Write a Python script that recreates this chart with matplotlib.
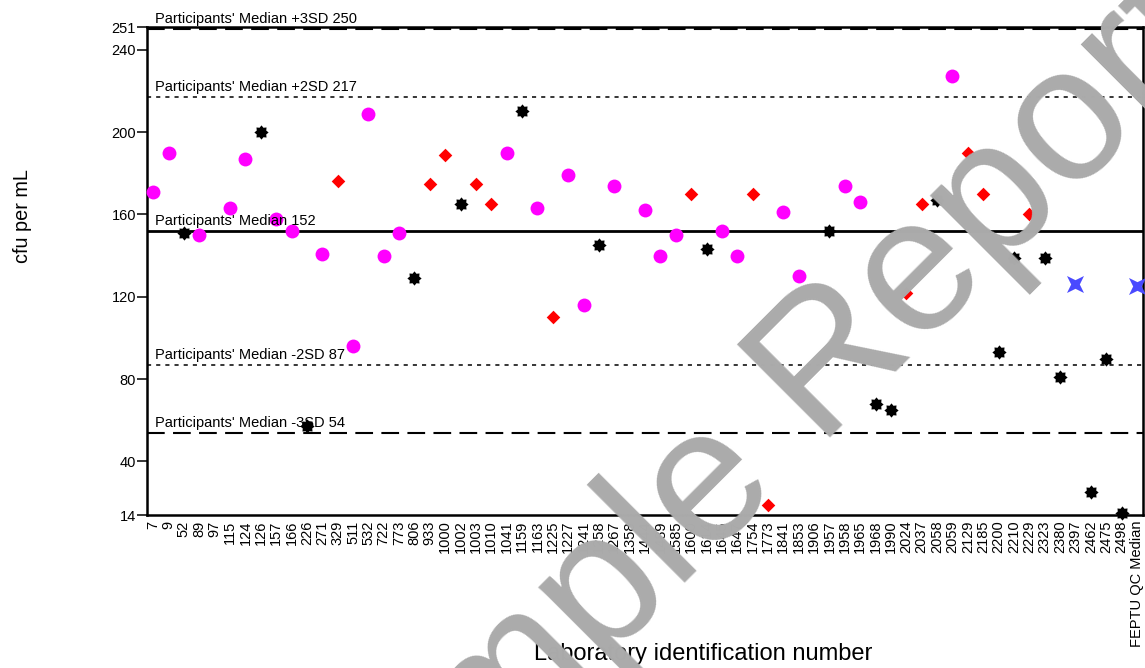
import matplotlib
matplotlib.use("Agg")
import matplotlib.pyplot as plt
import numpy as np
from matplotlib.path import Path
import matplotlib.transforms as mtransforms

plt.rcParams["font.family"] = ["Liberation Sans", "DejaVu Sans"]

# laboratory ids as printed on the x axis
lab_ids = [
    "7", "9", "52", "89", "97", "115", "124", "126", "157", "166", "226", "271",
    "329", "511", "532", "722", "773", "806", "933", "1000", "1002", "1003",
    "1010", "1041", "1159", "1163", "1225", "1227", "1241", "1258", "1267",
    "1358", "1444", "1489", "1585", "1600", "1614", "1645", "1647", "1754",
    "1773", "1841", "1853", "1906", "1957", "1958", "1965", "1968", "1990",
    "2024", "2037", "2058", "2059", "2129", "2185", "2200", "2210", "2229",
    "2323", "2380", "2397", "2462", "2475", "2498", "FEPTU QC Median",
]

# reported counts (cfu per mL), nan = no result
counts = [
    171, 190, 151, 150, np.nan, 163, 187, 200, 158, 152, 57, 141,
    176, 96, 209, 140, 151, 129, 175, 189, 165, 175,
    165, 190, 210, 163, 110, 179, 116, 145, 174,
    np.nan, 162, 140, 150, 170, 143, 152, 140, 170,
    19, 161, 130, np.nan, 152, 174, 166, 68, 65,
    122, 165, 167, 227, 190, 170, 93, 139, 160,
    139, 81, 126, 25, 90, 15, 125,
]

# method group of each result
groups = [
    "A", "A", "C", "A", "", "A", "A", "C", "A", "A", "C", "A",
    "B", "A", "A", "A", "A", "C", "B", "B", "C", "B",
    "B", "A", "C", "A", "B", "A", "A", "C", "A",
    "", "A", "A", "A", "B", "C", "A", "A", "B",
    "B", "A", "A", "", "C", "A", "A", "C", "C",
    "B", "B", "C", "A", "B", "B", "C", "C", "B",
    "C", "C", "M", "C", "C", "C", "M",
]

ref_names = ["Participants' Median +3SD 250", "Participants' Median +2SD 217",
             "Participants' Median 152", "Participants' Median -2SD 87",
             "Participants' Median -3SD 54"]
ref_values = [250, 217, 152, 87, 54]

y_ticks = [14, 40, 80, 120, 160, 200, 240, 251]

star8 = Path.unit_regular_star(8, 0.72)
star4 = mtransforms.Affine2D().rotate_deg(45).transform_path(
    Path.unit_regular_star(4, 0.36))

group_styles = {
    "A": dict(marker="o", color="#ff00ff", s=100),
    "B": dict(marker="D", color="#ff0000", s=48),
    "C": dict(marker=star8, color="black", s=105),
    "M": dict(marker=star4, color="#4a4aff", s=150),
}

ref_styles = [
    dict(lw=1.5, ls=(0, (8.5, 4))),
    dict(lw=1.1, ls=(0, (2.7, 3.3))),
    dict(lw=2.0, ls="-"),
    dict(lw=1.1, ls=(0, (2.7, 3.3))),
    dict(lw=1.5, ls=(0, (8.5, 4))),
]

fig = plt.figure(figsize=(11.45, 6.68), dpi=100)
ax = fig.add_axes([0.1284, 0.2290, 0.8699, 0.7305])

x = np.arange(len(lab_ids))
counts = np.array(counts, dtype=float)
groups = np.array(groups)

for g, style in group_styles.items():
    m = groups == g
    ax.scatter(x[m], counts[m], linewidths=0, clip_on=False, zorder=3, **style)

trans = mtransforms.blended_transform_factory(ax.transAxes, ax.transData)
for name, val, st in zip(ref_names, ref_values, ref_styles):
    ax.axhline(val, color="black", lw=st["lw"], ls=st["ls"], zorder=2)
    ax.annotate(name, xy=(0.008, val), xycoords=trans, xytext=(0, 2),
                textcoords="offset points", ha="left", va="bottom",
                fontsize=10.5)

ax.set_xlim(-0.4, len(lab_ids) - 0.6)
ax.set_ylim(14, 251)
ax.set_yticks(y_ticks)
ax.set_xticks(x)
ax.set_xticklabels(lab_ids, rotation=90, fontsize=10.5)
ax.tick_params(axis="x", length=0, pad=4)
ax.tick_params(axis="y", length=7, width=1.1, labelsize=10.5, pad=1)

for sp in ax.spines.values():
    sp.set_linewidth(1.8)

ax.set_ylabel("cfu per mL", fontsize=14.3)
ax.yaxis.set_label_coords(-0.115, 0.613)
ax.set_xlabel("Laboratory identification number", fontsize=17)
ax.xaxis.set_label_coords(0.558, -0.262)

# watermark over the whole chart
fig.text(0.6769, 0.2605, "Sample Report", rotation=45, rotation_mode="anchor",
         ha="center", va="baseline", fontsize=138, color="#ababab", zorder=10)

fig.savefig("out.png", dpi=100)
